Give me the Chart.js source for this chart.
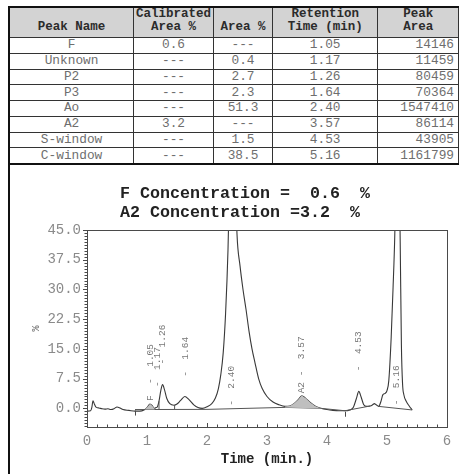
<!DOCTYPE html>
<html>
<head>
<meta charset="utf-8">
<script src="https://cdn.jsdelivr.net/npm/chart.js@4.4.1/dist/chart.umd.min.js"></script>
<style>
  html, body { margin: 0; padding: 0; background: #fff; }
  body { width: 459px; height: 474px; overflow: hidden; position: relative; }
  #frame { position: absolute; left: 8px; top: 6px; width: 470px; height: 480px;
           border-left: 2px solid #111; border-top: 2px solid #111; box-sizing: border-box; }
  #peaks { position: absolute; left: 8px; top: 6px; border-collapse: collapse; table-layout: fixed;
           font-family: "Liberation Mono", "Courier New", monospace; font-size: 12.8px; }
  #peaks th, #peaks td { border: 1px solid #333; padding: 0; overflow: hidden; white-space: nowrap; }
  #peaks th { background: #d3d3d3; color: #2b2b2b; font-weight: bold; vertical-align: bottom;
              font-size: 12.5px; line-height: 13px; padding-bottom: 3px; height: 26px; }
  #peaks td { color: #6e6e6e; text-align: center; height: 14.75px; line-height: 14px; }
  #peaks td.num { text-align: right; padding-right: 4px; }
  #peaks tbody tr:last-child td { border-bottom: 2px solid #111; }
  #peaks thead th { border-top: 2px solid #111; }
  #peaks tr > :first-child { border-left: 2px solid #111; }
  #chrom { position: absolute; left: 0; top: 163px; }
</style>
</head>
<body>
<div id="frame"></div>
<table id="peaks">
  <colgroup><col style="width:128px"><col style="width:80px"><col style="width:60px"><col style="width:107px"><col style="width:82px"></colgroup>
  <thead><tr>
    <th>Peak Name</th><th>Calibrated<br>Area %</th><th>Area %</th><th>Retention<br>Time (min)</th><th>Peak<br>Area</th>
  </tr></thead>
  <tbody id="peakRows"></tbody>
</table>
<canvas id="chrom" width="459" height="311"></canvas>
<script>
// peak report
const peakNames = ["F", "Unknown", "P2", "P3", "Ao", "A2", "S-window", "C-window"];
const calibratedArea = [0.6, null, null, null, null, 3.2, null, null];
const areaPct = [null, 0.4, 2.7, 2.3, 51.3, null, 1.5, 38.5];
const retentionTime = [1.05, 1.17, 1.26, 1.64, 2.40, 3.57, 4.53, 5.16];
const peakArea = [14146, 11459, 80459, 70364, 1547410, 86114, 43905, 1161799];

// detector trace, time (min) / signal (%)
const traceTime = [0.00, 0.06, 0.08, 0.10, 0.12, 0.15, 0.20, 0.25, 0.30, 0.35, 0.40, 0.45, 0.50, 0.55, 0.60, 0.70,
  0.80, 0.88, 0.95, 1.00, 1.05, 1.09, 1.12, 1.15, 1.17, 1.20, 1.23, 1.26, 1.29, 1.33, 1.38, 1.45, 1.50, 1.56,
  1.63, 1.70, 1.78, 1.85, 1.92, 2.00, 2.08, 2.14, 2.19, 2.23, 2.27, 2.31, 2.35, 2.38, 2.42, 2.46, 2.50, 2.55,
  2.60, 2.65, 2.70, 2.75, 2.80, 2.86, 2.92, 3.00, 3.10, 3.20, 3.30, 3.38, 3.45, 3.52, 3.58, 3.64, 3.72, 3.80,
  3.88, 4.00, 4.10, 4.20, 4.30, 4.38, 4.44, 4.49, 4.53, 4.57, 4.61, 4.66, 4.72, 4.76, 4.79, 4.82, 4.86, 4.90,
  4.93, 4.97, 5.00, 5.03, 5.07, 5.10, 5.13, 5.16, 5.19, 5.22, 5.24, 5.26, 5.28, 5.32, 5.37, 5.42];
const traceSignal = [-0.7, -0.6, 0.2, 1.9, 1.2, 0.3, 0.1, -0.1, -0.2, -0.1, -0.3, -0.1, 0.35, 0.1, -0.3, -0.5,
  -0.7, -0.7, -0.4, 0.2, 1.1, 0.6, 0.0, 0.2, 0.3, 1.8, 4.5, 6.0, 4.8, 2.5, 1.2, 0.8, 1.1, 2.0,
  3.0, 2.2, 0.9, 0.2, 0.0, 0.4, 1.2, 2.6, 5.0, 8.5, 14, 24, 40, 60, 75, 65, 44, 36,
  30, 25, 19.5, 15, 11.5, 7.5, 5.0, 3.0, 1.6, 0.9, 0.5, 0.6, 1.2, 2.2, 3.2, 2.6, 1.5, 0.6,
  0.1, -0.3, -0.5, -0.6, -0.6, -0.4, 0.3, 2.5, 4.3, 2.8, 1.0, 0.5, 0.6, 0.9, 1.2, 0.9, 0.5, 1.8,
  3.4, 3.8, 4.5, 7.0, 18, 30, 44, 70, 72, 42, 16, 6.0, 3.5, 1.8, 0.6, -0.4];

// integration baseline (null breaks the line)
const baseTime = [0.80, 2.00, 3.30, 3.90, 4.30, 4.72, 4.79, 4.86, 5.42];
const baseSignal = [-0.3, -0.25, 0.25, 0.0, -0.6, 0.6, null, 0.5, -0.4];
const shadeWindows = [[0.97, 1.13], [3.30, 3.92]];
const dropTimes = [1.13, 1.20, 1.46];
const eventTimes = [0.80, 4.30];

const xTicks = [0, 1, 2, 3, 4, 5, 6];
const yTicks = [0, 7.5, 15, 22.5, 30, 37.5, 45];
const yMin = -4.7, yMax = 45;

const mono = '"Liberation Mono", "Courier New", monospace';

// fill the report table
const rows = document.getElementById("peakRows");
peakNames.forEach((name, i) => {
  const tr = document.createElement("tr");
  const cells = [
    name,
    calibratedArea[i] == null ? "---" : calibratedArea[i].toFixed(1),
    areaPct[i] == null ? "---" : areaPct[i].toFixed(1),
    retentionTime[i].toFixed(2),
    String(peakArea[i])
  ];
  cells.forEach((c, k) => {
    const td = document.createElement("td");
    td.textContent = c;
    if (k === 4) td.className = "num";
    tr.appendChild(td);
  });
  rows.appendChild(tr);
});

function interp(xs, ys, t) {
  for (let i = 0; i < xs.length - 1; i++) {
    if (ys[i] == null || ys[i + 1] == null) continue;
    if (t >= xs[i] && t <= xs[i + 1]) {
      return ys[i] + (ys[i + 1] - ys[i]) * (t - xs[i]) / (xs[i + 1] - xs[i]);
    }
  }
  return null;
}
const traceAt = t => interp(traceTime, traceSignal, t);
const baseAt = t => interp(baseTime, baseSignal, t);

const tracePoints = traceTime.map((t, i) => ({ x: t, y: traceSignal[i] }));
const basePoints = baseTime.map((t, i) => ({ x: t, y: baseSignal[i] }));

// closed outline: trace over the window, back along the baseline
function shadeShape(t0, t1) {
  const pts = [{ x: t0, y: traceAt(t0) }];
  traceTime.forEach((t, i) => { if (t > t0 && t < t1) pts.push({ x: t, y: traceSignal[i] }); });
  pts.push({ x: t1, y: traceAt(t1) }, { x: t1, y: baseAt(t1) }, { x: t0, y: baseAt(t0) });
  return pts;
}

const dropPoints = [];
dropTimes.forEach(t => {
  dropPoints.push({ x: t, y: baseAt(t) }, { x: t, y: traceAt(t) }, { x: t, y: null });
});

const shadeSets = shadeWindows.map(w => ({
  data: shadeShape(w[0], w[1]),
  fill: "shape",
  backgroundColor: "#bfbfbf",
  borderWidth: 0,
  pointRadius: 0
}));

const chromDecor = {
  id: "chromDecor",
  afterDraw(chart) {
    const { ctx, chartArea: a, scales: { x, y } } = chart;
    ctx.save();
    ctx.strokeStyle = "#4a4a4a";
    ctx.lineWidth = 1;
    ctx.strokeRect(a.left + 0.5, a.top + 0.5, a.right - a.left, a.bottom - a.top);

    // minor ticks every 0.75 % and every 10 s
    ctx.beginPath();
    for (let i = Math.ceil(yMin / 0.75); i * 0.75 <= yMax + 1e-9; i++) {
      const py = Math.round(y.getPixelForValue(i * 0.75)) + 0.5;
      const len = i % 10 === 0 ? 4 : 2.5;
      ctx.moveTo(a.left - len, py);
      ctx.lineTo(a.left, py);
    }
    for (let i = 0; i <= 36; i++) {
      const px = Math.round(x.getPixelForValue(i / 6)) + 0.5;
      const len = i % 6 === 0 ? 4 : 2.5;
      ctx.moveTo(px, a.bottom);
      ctx.lineTo(px, a.bottom - len);
    }
    // integration events below the baseline
    eventTimes.forEach(t => {
      const px = Math.round(x.getPixelForValue(t)) + 0.5;
      const py = y.getPixelForValue(baseAt(t));
      ctx.moveTo(px, py + 1);
      ctx.lineTo(px, py + 6);
    });
    ctx.stroke();

    // peak annotations, rotated
    ctx.fillStyle = "#777";
    ctx.font = "9.5px " + mono;
    ctx.textAlign = "left";
    ctx.textBaseline = "middle";
    retentionTime.forEach((t, i) => {
      const top = traceAt(t);
      const rt = t.toFixed(2);
      let v, txt;
      if (top > yMax) {
        v = baseAt(t);
        txt = "-  " + rt;
      } else {
        v = top;
        txt = (calibratedArea[i] != null ? peakNames[i] : " ").padEnd(3, " ") + "-  " + rt;
      }
      ctx.save();
      ctx.translate(x.getPixelForValue(t), y.getPixelForValue(v) - 3);
      ctx.rotate(-Math.PI / 2);
      ctx.fillText(txt, 0, 0);
      ctx.restore();
    });

    // concentration header
    ctx.fillStyle = "#222";
    ctx.font = "bold 16.67px " + mono;
    ctx.textBaseline = "alphabetic";
    ctx.fillText("F Concentration =  " + calibratedArea[0].toFixed(1) + "  %", 120, 35);
    ctx.fillText("A2 Concentration =" + calibratedArea[5].toFixed(1) + "  %", 120, 54);
    ctx.restore();
  }
};

new Chart(document.getElementById("chrom"), {
  type: "line",
  data: {
    datasets: [
      ...shadeSets,
      { data: basePoints, borderColor: "#555", borderWidth: 1, pointRadius: 0, fill: false },
      { data: dropPoints, borderColor: "#555", borderWidth: 1, pointRadius: 0, fill: false },
      { data: tracePoints, borderColor: "#383838", borderWidth: 1.1, pointRadius: 0, fill: false,
        cubicInterpolationMode: "monotone" }
    ]
  },
  options: {
    responsive: false,
    animation: false,
    layout: { padding: { top: 67, right: 12, left: 0, bottom: 0 } },
    plugins: { legend: { display: false }, tooltip: { enabled: false } },
    scales: {
      x: {
        type: "linear", min: 0, max: 6,
        afterFit(s) { s.height = 47; },
        afterBuildTicks(s) { s.ticks = xTicks.map(v => ({ value: v })); },
        grid: { display: false, drawTicks: false },
        border: { display: false },
        ticks: { padding: 6, color: "#8a8a8a", font: { family: mono, size: 14 }, callback: v => String(v) },
        title: { display: true, text: "Time (min.)", color: "#222",
                 font: { family: mono, size: 14, weight: "bold" }, padding: { top: 0, bottom: 6 } }
      },
      y: {
        min: yMin, max: yMax,
        afterFit(s) { s.width = 87; },
        afterBuildTicks(s) { s.ticks = yTicks.map(v => ({ value: v })); },
        grid: { display: false, drawTicks: false },
        border: { display: false },
        ticks: { padding: 6, color: "#8a8a8a", font: { family: mono, size: 14 }, callback: v => v.toFixed(1) },
        title: { display: true, text: "%", color: "#666",
                 font: { family: mono, size: 10 }, padding: { top: 30, bottom: 0 } }
      }
    }
  },
  plugins: [chromDecor]
});
</script>
</body>
</html>
